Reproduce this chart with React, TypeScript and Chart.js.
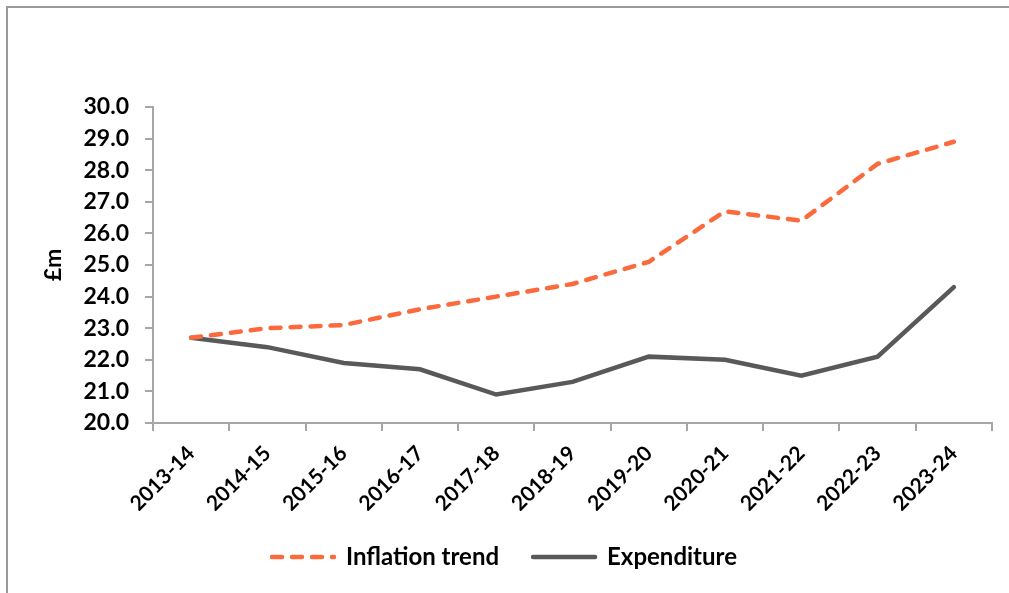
import React, { useEffect, useRef } from "react";
import { Chart, registerables } from "chart.js";

Chart.register(...registerables);

const categories = ["2013-14", "2014-15", "2015-16", "2016-17", "2017-18", "2018-19", "2019-20", "2020-21", "2021-22", "2022-23", "2023-24"];
const inflationTrend = [22.7, 23.0, 23.1, 23.6, 24.0, 24.4, 25.1, 26.7, 26.4, 28.2, 28.9];
const expenditure = [22.7, 22.4, 21.9, 21.7, 20.9, 21.3, 22.1, 22.0, 21.5, 22.1, 24.3];
const yTicks = [20, 21, 22, 23, 24, 25, 26, 27, 28, 29, 30];

const FONT = "Lato, 'Noto Sans', sans-serif";
const AXIS = "#a6a6a6";
const DASH = [10, 10];

export default function App() {
  const ref = useRef<HTMLCanvasElement | null>(null);
  useEffect(() => {
    const canvas = ref.current;
    if (!canvas) return;
    const chart = new Chart(canvas, {
      type: "line",
      data: {
        labels: categories,
        datasets: [
          {
            label: "Inflation trend",
            data: inflationTrend,
            borderColor: "#fb6a3c",
            backgroundColor: "#fb6a3c",
            borderWidth: 4.5,
            borderDash: DASH,
            borderCapStyle: "round",
            pointRadius: 0,
            tension: 0,
          },
          {
            label: "Expenditure",
            data: expenditure,
            borderColor: "#595959",
            backgroundColor: "#595959",
            borderWidth: 4.5,
            borderCapStyle: "round",
            pointRadius: 0,
            tension: 0,
          },
        ],
      },
      options: {
        responsive: false,
        animation: false,
        devicePixelRatio: 1,
        layout: { padding: { top: 107, right: 17, left: 17, bottom: 14 } },
        plugins: {
          tooltip: { enabled: false },
          legend: {
            position: "bottom",
            labels: {
              usePointStyle: true,
              pointStyle: "line",
              pointStyleWidth: 62,
              padding: 34,
              color: "#000",
              font: { family: FONT, size: 24, weight: "bold" },
              generateLabels: (c: any) => {
                const items = Chart.defaults.plugins.legend.labels.generateLabels(c);
                return items.map((it: any, i: number) => ({
                  ...it,
                  lineWidth: 4.5,
                  lineCap: "round",
                  lineDash: i === 0 ? DASH : [],
                  strokeStyle: c.data.datasets[i].borderColor,
                  fillStyle: c.data.datasets[i].borderColor,
                  pointStyle: "line",
                }));
              },
            },
          },
        },
        scales: {
          x: {
            type: "category",
            offset: true,
            grid: { offset: true, drawOnChartArea: false, drawTicks: true, tickLength: 8, color: AXIS, lineWidth: 2 },
            border: { color: AXIS, width: 2 },
            ticks: {
              color: "#000",
              maxRotation: 45,
              minRotation: 45,
              padding: 10,
              font: { family: FONT, size: 21, weight: "bold" },
            },
            afterFit: (s: any) => { s.height = 88; },
          },
          y: {
            min: 20,
            max: 30,
            afterBuildTicks: (s: any) => { s.ticks = yTicks.map((v) => ({ value: v })); },
            grid: { drawOnChartArea: false, drawTicks: true, tickLength: 8, color: AXIS, lineWidth: 2 },
            border: { color: AXIS, width: 2 },
            ticks: {
              color: "#000",
              padding: 16,
              font: { family: FONT, size: 23, weight: "bold" },
              callback: (v: any) => Number(v).toFixed(1),
            },
            title: {
              display: true,
              text: "£m",
              color: "#000",
              padding: { top: 23, bottom: 0 },
              font: { family: FONT, size: 23, weight: "bold" },
            },
            afterFit: (s: any) => { s.width = 136; },
          },
        },
      },
    });
    return () => chart.destroy();
  }, []);
  return (
    <div style={{ position: "fixed", left: 0, top: 0, width: 1009, height: 593, background: "#fff", overflow: "hidden" }}>
      <div style={{ position: "absolute", left: 6, top: 6, width: 1003, height: 587, borderTop: "2px solid #9a9a9a", borderLeft: "2px solid #9a9a9a", boxSizing: "border-box" }} />
      <canvas ref={ref} width={1009} height={593} style={{ position: "absolute", left: 0, top: 0, width: 1009, height: 593 }} />
    </div>
  );
}
